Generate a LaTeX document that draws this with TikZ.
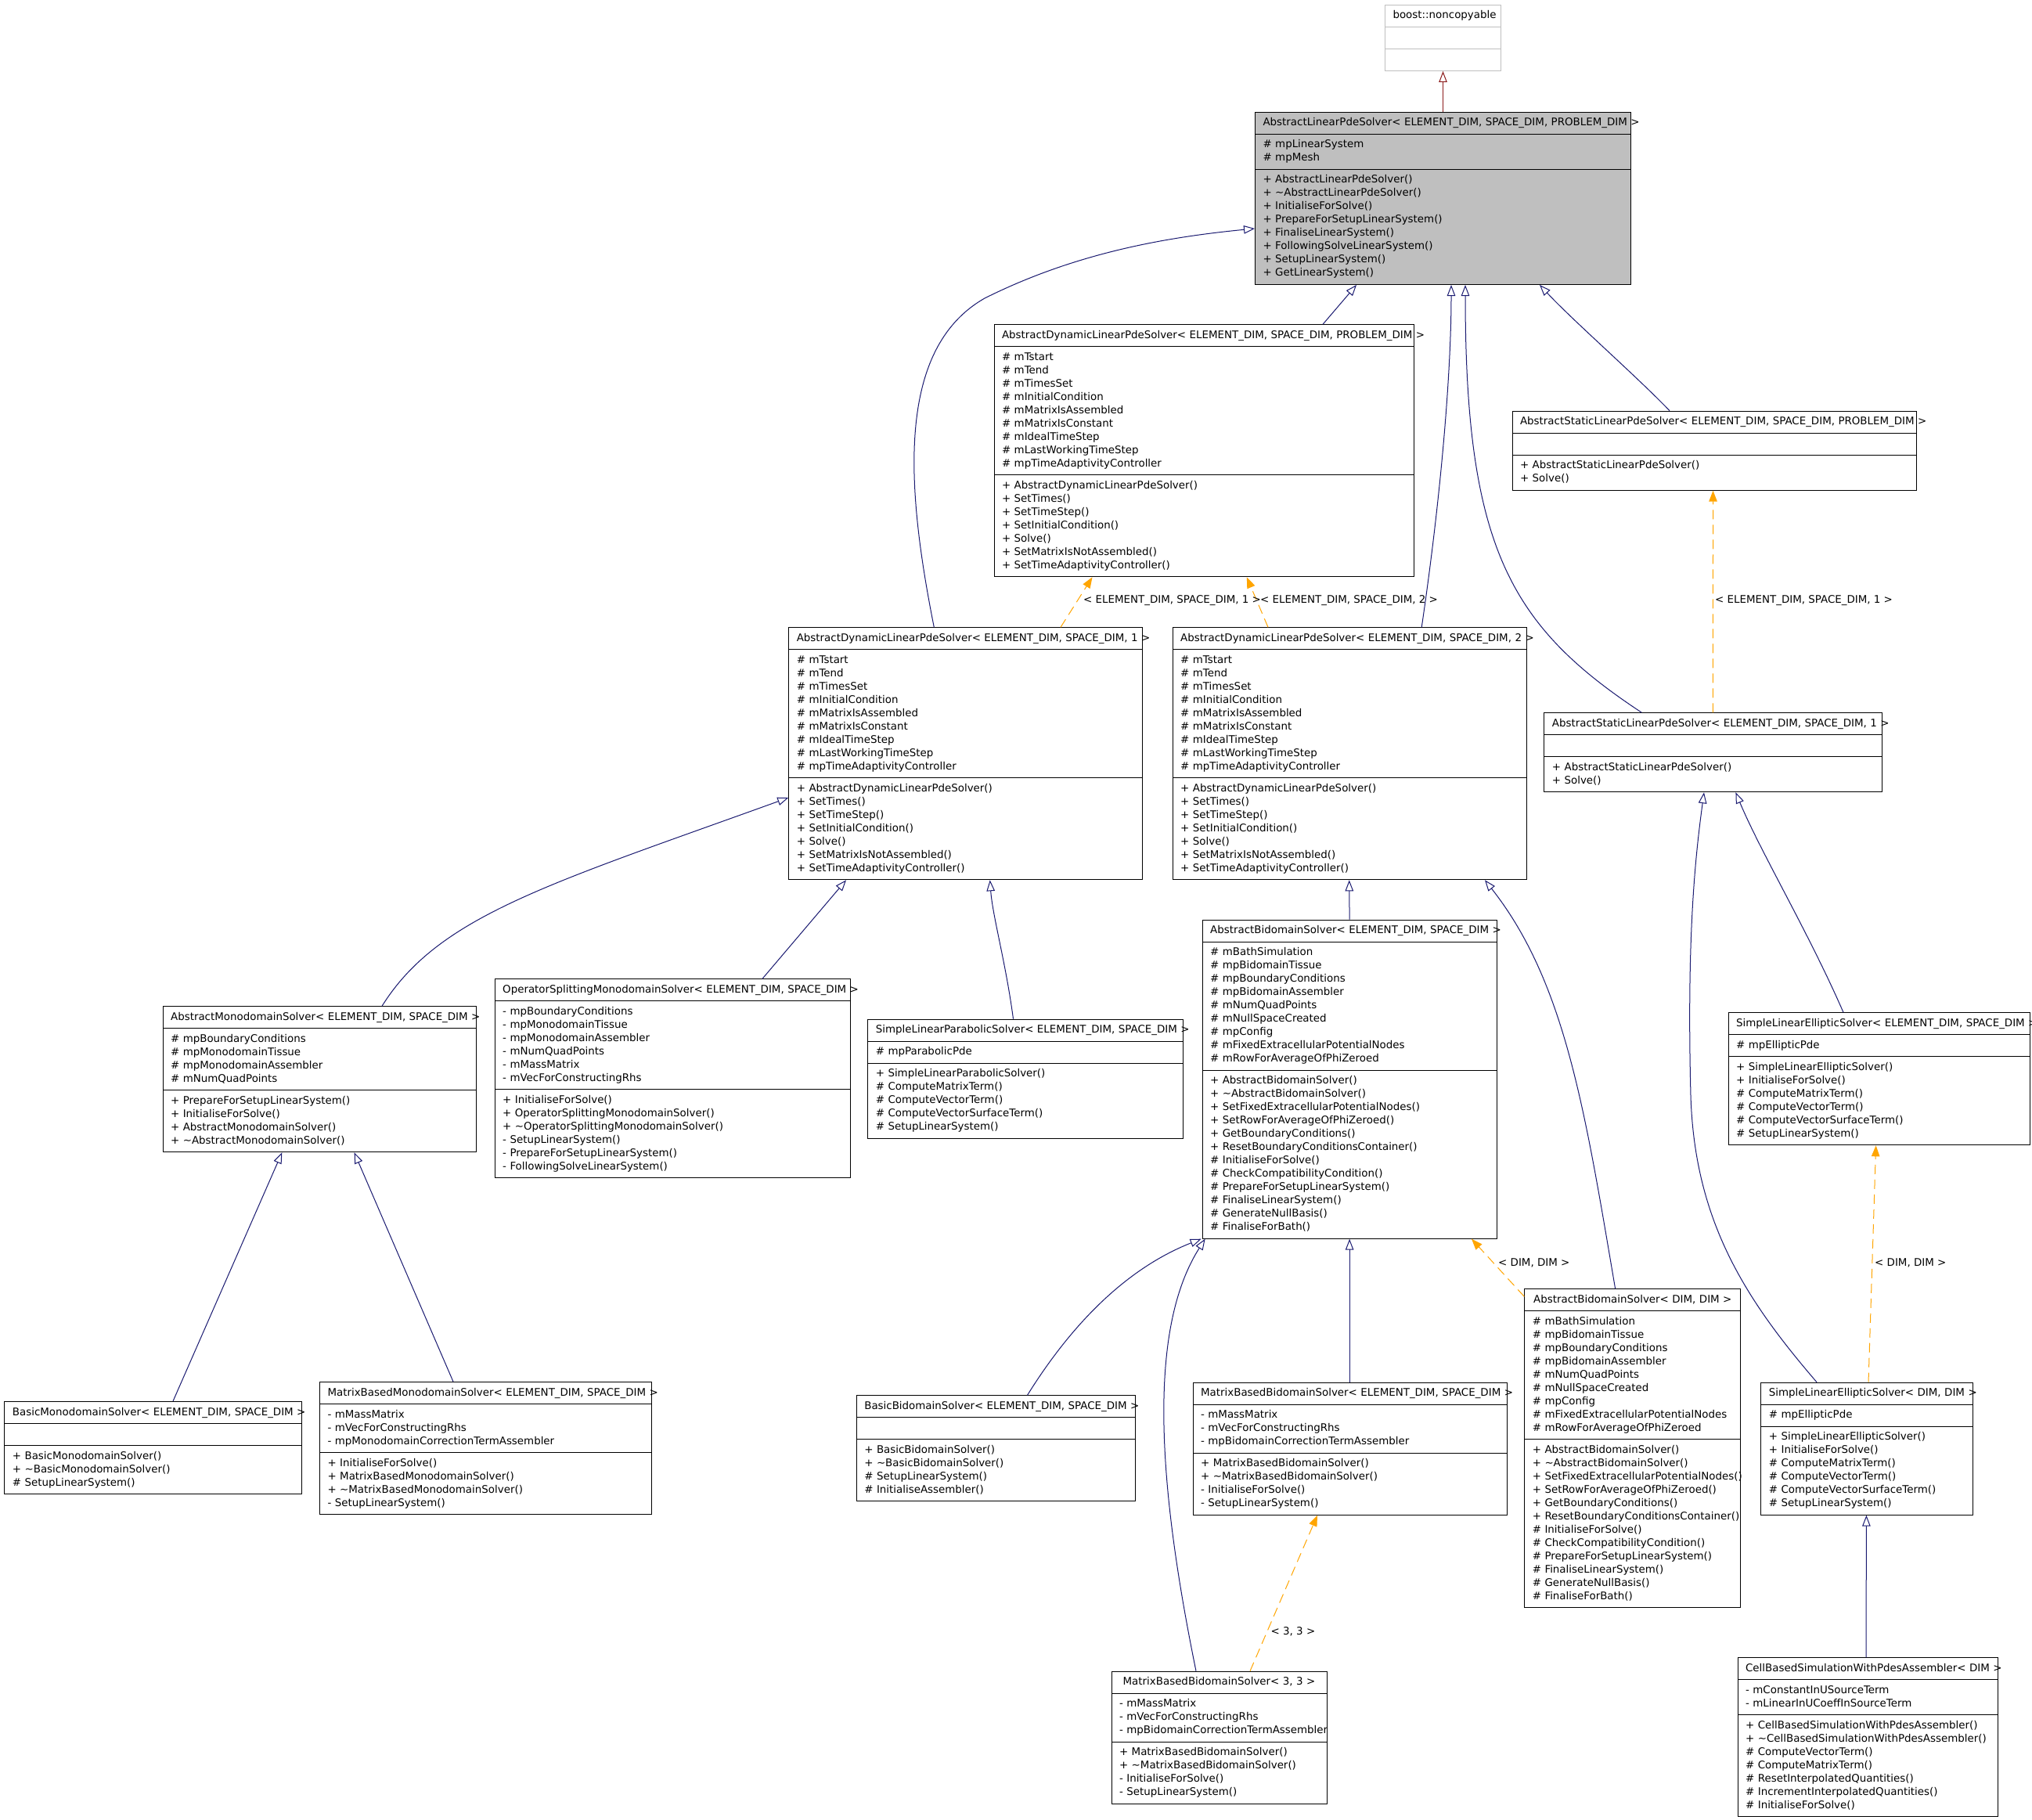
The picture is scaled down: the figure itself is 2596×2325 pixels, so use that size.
\documentclass[tikz,border=0pt]{standalone}
\usepackage{fontspec}
\setmainfont{DejaVu Sans}
\usetikzlibrary{shapes.multipart,arrows.meta}
\definecolor{navyln}{HTML}{191970}
\definecolor{privln}{HTML}{8B1A1A}
\definecolor{tmplln}{HTML}{FFA500}
\definecolor{grayfill}{HTML}{BFBFBF}

\newcommand\umlln[1]{\mbox{\rule[-5pt]{0pt}{17pt}#1}}
\newcommand\umlttl[1]{\hbox to\linewidth{\hfil\rule[-5pt]{0pt}{17pt}#1\hfil}}
\newcommand\umlnone{\mbox{\rule[-5pt]{0pt}{17pt}}}

\newcommand\dynattrs{\umlln{\# mTstart}\\\umlln{\# mTend}\\\umlln{\# mTimesSet}\\\umlln{\# mInitialCondition}\\\umlln{\# mMatrixIsAssembled}\\\umlln{\# mMatrixIsConstant}\\\umlln{\# mIdealTimeStep}\\\umlln{\# mLastWorkingTimeStep}\\\umlln{\# mpTimeAdaptivityController}}
\newcommand\dynmeths{\umlln{+ AbstractDynamicLinearPdeSolver()}\\\umlln{+ SetTimes()}\\\umlln{+ SetTimeStep()}\\\umlln{+ SetInitialCondition()}\\\umlln{+ Solve()}\\\umlln{+ SetMatrixIsNotAssembled()}\\\umlln{+ SetTimeAdaptivityController()}}
\newcommand\statmeths{\umlln{+ AbstractStaticLinearPdeSolver()}\\\umlln{+ Solve()}}
\newcommand\bidattrs{\umlln{\# mBathSimulation}\\\umlln{\# mpBidomainTissue}\\\umlln{\# mpBoundaryConditions}\\\umlln{\# mpBidomainAssembler}\\\umlln{\# mNumQuadPoints}\\\umlln{\# mNullSpaceCreated}\\\umlln{\# mpConfig}\\\umlln{\# mFixedExtracellularPotentialNodes}\\\umlln{\# mRowForAverageOfPhiZeroed}}
\newcommand\bidmeths{\umlln{+ AbstractBidomainSolver()}\\\umlln{+ \textasciitilde AbstractBidomainSolver()}\\\umlln{+ SetFixedExtracellularPotentialNodes()}\\\umlln{+ SetRowForAverageOfPhiZeroed()}\\\umlln{+ GetBoundaryConditions()}\\\umlln{+ ResetBoundaryConditionsContainer()}\\\umlln{\# InitialiseForSolve()}\\\umlln{\# CheckCompatibilityCondition()}\\\umlln{\# PrepareForSetupLinearSystem()}\\\umlln{\# FinaliseLinearSystem()}\\\umlln{\# GenerateNullBasis()}\\\umlln{\# FinaliseForBath()}}
\newcommand\sleattrs{\umlln{\# mpEllipticPde}}
\newcommand\slemeths{\umlln{+ SimpleLinearEllipticSolver()}\\\umlln{+ InitialiseForSolve()}\\\umlln{\# ComputeMatrixTerm()}\\\umlln{\# ComputeVectorTerm()}\\\umlln{\# ComputeVectorSurfaceTerm()}\\\umlln{\# SetupLinearSystem()}}
\newcommand\mbbattrs{\umlln{- mMassMatrix}\\\umlln{- mVecForConstructingRhs}\\\umlln{- mpBidomainCorrectionTermAssembler}}
\newcommand\mbbmeths{\umlln{+ MatrixBasedBidomainSolver()}\\\umlln{+ \textasciitilde MatrixBasedBidomainSolver()}\\\umlln{- InitialiseForSolve()}\\\umlln{- SetupLinearSystem()}}

\begin{document}
\begin{tikzpicture}[x=1pt,y=-1pt,
  umlcls/.style={rectangle split, rectangle split parts=3, draw=black, line width=1pt, fill=white,
    text width=#1pt-20pt, inner xsep=10pt, inner ysep=5pt, anchor=north west, align=left,
    font=\fontsize{13.4pt}{17pt}\selectfont},
  inh/.style={draw=navyln, line width=1pt, -{Triangle[open,length=14pt,width=10.5pt]}},
  priv/.style={draw=privln, line width=1pt, -{Triangle[open,length=14pt,width=10.5pt]}},
  tmpl/.style={draw=tmplln, line width=1pt, dash pattern=on 12pt off 7pt, -{Triangle[length=14pt,width=10.5pt,fill=tmplln]}},
  lbl/.style={anchor=west, inner sep=0pt, font=\fontsize{13.4pt}{17pt}\selectfont}
]
\fill[white] (0,0) rectangle (2596,2325);
\useasboundingbox (0,0) rectangle (2596,2325);

% ---- classes ----
\node[umlcls=148, draw=grayfill] (nc) at (1769,6)
  {\umlttl{boost::noncopyable}\nodepart{two}\umlnone\nodepart{three}\umlnone};

\node[umlcls=480, fill=grayfill] (alps) at (1603,143)
  {\umlttl{AbstractLinearPdeSolver< ELEMENT\_DIM, SPACE\_DIM, PROBLEM\_DIM >}
   \nodepart{two}\umlln{\# mpLinearSystem}\\\umlln{\# mpMesh}
   \nodepart{three}\umlln{+ AbstractLinearPdeSolver()}\\\umlln{+ \textasciitilde AbstractLinearPdeSolver()}\\\umlln{+ InitialiseForSolve()}\\\umlln{+ PrepareForSetupLinearSystem()}\\\umlln{+ FinaliseLinearSystem()}\\\umlln{+ FollowingSolveLinearSystem()}\\\umlln{+ SetupLinearSystem()}\\\umlln{+ GetLinearSystem()}};

\node[umlcls=536] (dynp) at (1269.5,414.3)
  {\umlttl{AbstractDynamicLinearPdeSolver< ELEMENT\_DIM, SPACE\_DIM, PROBLEM\_DIM >}
   \nodepart{two}\dynattrs\nodepart{three}\dynmeths};

\node[umlcls=516] (statp) at (1931.5,524.7)
  {\umlttl{AbstractStaticLinearPdeSolver< ELEMENT\_DIM, SPACE\_DIM, PROBLEM\_DIM >}
   \nodepart{two}\umlnone\nodepart{three}\statmeths};

\node[umlcls=452] (dyn1) at (1007.3,801.3)
  {\umlttl{AbstractDynamicLinearPdeSolver< ELEMENT\_DIM, SPACE\_DIM, 1 >}
   \nodepart{two}\dynattrs\nodepart{three}\dynmeths};

\node[umlcls=452] (dyn2) at (1497.7,801.3)
  {\umlttl{AbstractDynamicLinearPdeSolver< ELEMENT\_DIM, SPACE\_DIM, 2 >}
   \nodepart{two}\dynattrs\nodepart{three}\dynmeths};

\node[umlcls=432] (stat1) at (1972.4,910.3)
  {\umlttl{AbstractStaticLinearPdeSolver< ELEMENT\_DIM, SPACE\_DIM, 1 >}
   \nodepart{two}\umlnone\nodepart{three}\statmeths};

\node[umlcls=400] (amono) at (207.6,1285.3)
  {\umlttl{AbstractMonodomainSolver< ELEMENT\_DIM, SPACE\_DIM >}
   \nodepart{two}\umlln{\# mpBoundaryConditions}\\\umlln{\# mpMonodomainTissue}\\\umlln{\# mpMonodomainAssembler}\\\umlln{\# mNumQuadPoints}
   \nodepart{three}\umlln{+ PrepareForSetupLinearSystem()}\\\umlln{+ InitialiseForSolve()}\\\umlln{+ AbstractMonodomainSolver()}\\\umlln{+ \textasciitilde AbstractMonodomainSolver()}};

\node[umlcls=454] (opsplit) at (631.7,1250.3)
  {\umlttl{OperatorSplittingMonodomainSolver< ELEMENT\_DIM, SPACE\_DIM >}
   \nodepart{two}\umlln{- mpBoundaryConditions}\\\umlln{- mpMonodomainTissue}\\\umlln{- mpMonodomainAssembler}\\\umlln{- mNumQuadPoints}\\\umlln{- mMassMatrix}\\\umlln{- mVecForConstructingRhs}
   \nodepart{three}\umlln{+ InitialiseForSolve()}\\\umlln{+ OperatorSplittingMonodomainSolver()}\\\umlln{+ \textasciitilde OperatorSplittingMonodomainSolver()}\\\umlln{- SetupLinearSystem()}\\\umlln{- PrepareForSetupLinearSystem()}\\\umlln{- FollowingSolveLinearSystem()}};

\node[umlcls=403] (slpar) at (1108.3,1301.7)
  {\umlttl{SimpleLinearParabolicSolver< ELEMENT\_DIM, SPACE\_DIM >}
   \nodepart{two}\umlln{\# mpParabolicPde}
   \nodepart{three}\umlln{+ SimpleLinearParabolicSolver()}\\\umlln{\# ComputeMatrixTerm()}\\\umlln{\# ComputeVectorTerm()}\\\umlln{\# ComputeVectorSurfaceTerm()}\\\umlln{\# SetupLinearSystem()}};

\node[umlcls=376] (abid) at (1535.6,1174.7)
  {\umlttl{AbstractBidomainSolver< ELEMENT\_DIM, SPACE\_DIM >}
   \nodepart{two}\bidattrs\nodepart{three}\bidmeths};

\node[umlcls=385] (sleES) at (2207.6,1293.3)
  {\umlttl{SimpleLinearEllipticSolver< ELEMENT\_DIM, SPACE\_DIM >}
   \nodepart{two}\sleattrs\nodepart{three}\slemeths};

\node[umlcls=380] (bmono) at (5.4,1790)
  {\umlttl{BasicMonodomainSolver< ELEMENT\_DIM, SPACE\_DIM >}
   \nodepart{two}\umlnone
   \nodepart{three}\umlln{+ BasicMonodomainSolver()}\\\umlln{+ \textasciitilde BasicMonodomainSolver()}\\\umlln{\# SetupLinearSystem()}};

\node[umlcls=424] (mbmono) at (408,1765)
  {\umlttl{MatrixBasedMonodomainSolver< ELEMENT\_DIM, SPACE\_DIM >}
   \nodepart{two}\umlln{- mMassMatrix}\\\umlln{- mVecForConstructingRhs}\\\umlln{- mpMonodomainCorrectionTermAssembler}
   \nodepart{three}\umlln{+ InitialiseForSolve()}\\\umlln{+ MatrixBasedMonodomainSolver()}\\\umlln{+ \textasciitilde MatrixBasedMonodomainSolver()}\\\umlln{- SetupLinearSystem()}};

\node[umlcls=356] (bbid) at (1093.8,1782.3)
  {\umlttl{BasicBidomainSolver< ELEMENT\_DIM, SPACE\_DIM >}
   \nodepart{two}\umlnone
   \nodepart{three}\umlln{+ BasicBidomainSolver()}\\\umlln{+ \textasciitilde BasicBidomainSolver()}\\\umlln{\# SetupLinearSystem()}\\\umlln{\# InitialiseAssembler()}};

\node[umlcls=401] (mbbid) at (1523.6,1765.7)
  {\umlttl{MatrixBasedBidomainSolver< ELEMENT\_DIM, SPACE\_DIM >}
   \nodepart{two}\mbbattrs\nodepart{three}\mbbmeths};

\node[umlcls=276] (abidDD) at (1947.3,1646.3)
  {\umlttl{AbstractBidomainSolver< DIM, DIM >}
   \nodepart{two}\bidattrs\nodepart{three}\bidmeths};

\node[umlcls=271] (sleDD) at (2249.4,1765.7)
  {\umlttl{SimpleLinearEllipticSolver< DIM, DIM >}
   \nodepart{two}\sleattrs\nodepart{three}\slemeths};

\node[umlcls=275] (mb33) at (1419.5,2134.7)
  {\umlttl{MatrixBasedBidomainSolver< 3, 3 >}
   \nodepart{two}\mbbattrs\nodepart{three}\mbbmeths};

\node[umlcls=332] (cell) at (2219.6,2117.3)
  {\umlttl{CellBasedSimulationWithPdesAssembler< DIM >}
   \nodepart{two}\umlln{- mConstantInUSourceTerm}\\\umlln{- mLinearInUCoeffInSourceTerm}
   \nodepart{three}\umlln{+ CellBasedSimulationWithPdesAssembler()}\\\umlln{+ \textasciitilde CellBasedSimulationWithPdesAssembler()}\\\umlln{\# ComputeVectorTerm()}\\\umlln{\# ComputeMatrixTerm()}\\\umlln{\# ResetInterpolatedQuantities()}\\\umlln{\# IncrementInterpolatedQuantities()}\\\umlln{\# InitialiseForSolve()}};

% ---- connectors ----
\draw[priv] (alps.north) -- (nc.south);
\draw[inh] ([xshift=420.5pt]dynp.north west) -- ([xshift=130pt]alps.south west);
\draw[inh] ([xshift=186pt]dyn1.north west) .. controls (1159,629) and (1142,447) .. (1258,381)
           .. controls (1374,323) and (1490,303) .. ([yshift=-149pt]alps.north west);
\draw[inh] ([xshift=318.5pt]dyn2.north west) .. controls (1840,640) and (1854,480) .. ([xshift=251pt]alps.south west);
\draw[inh] ([xshift=125pt]stat1.north west) .. controls (1930,800) and (1872,700) .. ([xshift=269pt]alps.south west);
\draw[inh] ([xshift=201.5pt]statp.north west) .. controls (2090,480) and (2010,410) .. ([xshift=364pt]alps.south west);

\draw[tmpl] ([xshift=347.7pt]dyn1.north west) -- ([xshift=126pt]dynp.south west);
\draw[tmpl] ([xshift=122.3pt]dyn2.north west) -- ([xshift=323.3pt]dynp.south west);
\draw[tmpl] ([xshift=216pt]stat1.north west) -- ([xshift=257pt]statp.south west);
\node[lbl] (lab1) at (1384,767) {< ELEMENT\_DIM, SPACE\_DIM, 1 >};
\node[lbl] (lab2) at (1610,767) {< ELEMENT\_DIM, SPACE\_DIM, 2 >};
\node[lbl] (lab3) at (2191,767) {< ELEMENT\_DIM, SPACE\_DIM, 1 >};

\draw[inh] ([xshift=280.4pt]amono.north west) .. controls (560,1170) and (700,1130) .. ([yshift=-217.7pt]dyn1.north west);
\draw[inh] ([xshift=342.3pt]opsplit.north west) -- ([xshift=73.7pt]dyn1.south west);
\draw[inh] ([xshift=186.2pt]slpar.north west) .. controls (1285,1230) and (1268,1170) .. ([xshift=257.4pt]dyn1.south west);
\draw[inh] (abid.north) -- ([xshift=226pt]dyn2.south west);
\draw[inh] ([xshift=116.3pt]abidDD.north west) .. controls (2025,1420) and (2000,1255) .. ([xshift=399.3pt]dyn2.south west);
\draw[inh] ([xshift=147.4pt]sleES.north west) .. controls (2310,1190) and (2250,1090) .. ([xshift=245pt]stat1.south west);
\draw[inh] ([xshift=71.6pt]sleDD.north west) .. controls (2230,1660) and (2165,1560) .. (2160,1400)
           .. controls (2155,1200) and (2165,1100) .. ([xshift=204.6pt]stat1.south west);

\draw[tmpl] ([xshift=137.6pt]sleDD.north west) -- ([xshift=189pt]sleES.south west);
\node[lbl] (lab4) at (2395,1613) {< DIM, DIM >};
\draw[tmpl] ([yshift=-10pt]abidDD.north west) -- ([xshift=344.4pt]abid.south west);
\node[lbl] (lab5) at (1914,1613) {< DIM, DIM >};

\draw[inh] ([xshift=215.6pt]bmono.north west) -- ([xshift=152.7pt]amono.south west);
\draw[inh] ([xshift=171pt]mbmono.north west) -- ([xshift=245pt]amono.south west);
\draw[inh] ([xshift=218.7pt]bbid.north west) .. controls (1370,1690) and (1440,1620) .. ([xshift=-1pt]abid.south west);
\draw[inh] ([xshift=200.5pt]mbbid.north west) -- (abid.south);
\draw[inh] ([xshift=108.5pt]mb33.north west) .. controls (1480,1900) and (1465,1700) .. ([xshift=4pt]abid.south west);
\draw[tmpl] ([xshift=177.5pt]mb33.north west) -- ([xshift=159.4pt]mbbid.south west);
\node[lbl] (lab6) at (1623.5,2084) {< 3, 3 >};
\draw[inh] ([xshift=164.4pt]cell.north west) -- ([xshift=135pt]sleDD.south west);
\end{tikzpicture}
\end{document}
